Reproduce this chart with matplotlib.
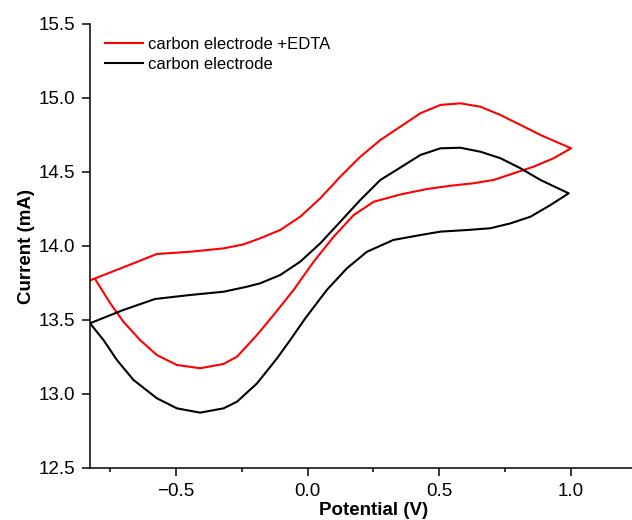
import matplotlib
matplotlib.use("Agg")
import matplotlib.pyplot as plt
from matplotlib.ticker import MultipleLocator

plt.rcParams["font.family"] = ["Liberation Sans", "DejaVu Sans"]

# Cyclic voltammograms: forward (upper) branch then
# reverse (lower) branch for each electrode.
EDTA_FWD_V = [-0.826, -0.699, -0.572, -0.446, -0.319, -0.243, -0.180, -0.104,
              -0.028, 0.048, 0.124, 0.200, 0.276, 0.352, 0.428, 0.504, 0.580,
              0.656, 0.732, 0.808, 0.884, 1.000]
EDTA_FWD_I = [13.768, 13.856, 13.946, 13.961, 13.984, 14.011, 14.052, 14.108,
              14.198, 14.322, 14.468, 14.603, 14.716, 14.806, 14.897, 14.953,
              14.964, 14.941, 14.885, 14.818, 14.750, 14.660]
EDTA_REV_V = [1.000, 0.934, 0.858, 0.782, 0.706, 0.630, 0.542, 0.453, 0.352,
              0.251, 0.175, 0.099, 0.023, -0.053, -0.129, -0.192, -0.268,
              -0.319, -0.408, -0.496, -0.572, -0.636, -0.699, -0.749, -0.806]
EDTA_REV_I = [14.660, 14.593, 14.536, 14.491, 14.446, 14.424, 14.407, 14.385,
              14.348, 14.299, 14.209, 14.063, 13.894, 13.703, 13.534, 13.399,
              13.252, 13.203, 13.174, 13.196, 13.263, 13.365, 13.488, 13.613,
              13.775]

BARE_FWD_V = [-0.826, -0.699, -0.579, -0.446, -0.319, -0.230, -0.180, -0.104,
              -0.028, 0.048, 0.124, 0.200, 0.276, 0.352, 0.428, 0.504, 0.580,
              0.656, 0.732, 0.808, 0.884, 0.991]
BARE_FWD_I = [13.478, 13.568, 13.642, 13.669, 13.691, 13.725, 13.748, 13.804,
              13.894, 14.018, 14.164, 14.311, 14.446, 14.530, 14.615, 14.660,
              14.664, 14.637, 14.593, 14.525, 14.446, 14.356]
BARE_REV_V = [0.991, 0.922, 0.846, 0.770, 0.694, 0.605, 0.504, 0.428, 0.326,
              0.225, 0.149, 0.073, -0.009, -0.066, -0.116, -0.192, -0.268,
              -0.319, -0.408, -0.496, -0.572, -0.661, -0.724, -0.775, -0.826]
BARE_REV_I = [14.356, 14.277, 14.198, 14.153, 14.120, 14.108, 14.097, 14.074,
              14.041, 13.961, 13.849, 13.703, 13.511, 13.365, 13.241, 13.072,
              12.948, 12.903, 12.874, 12.903, 12.971, 13.095, 13.230, 13.365,
              13.478]

fig = plt.figure(figsize=(6.32, 5.2), dpi=100)
# axes run past the right edge, as in the (cropped) reference
ax = fig.add_axes([90 / 632, 52 / 520, 568 / 632, 444 / 520])

ax.plot(EDTA_FWD_V + EDTA_REV_V, EDTA_FWD_I + EDTA_REV_I, color="#ff0000",
        linewidth=1.5, label="carbon electrode +EDTA")
ax.plot(BARE_FWD_V + BARE_REV_V, BARE_FWD_I + BARE_REV_I, color="black",
        linewidth=1.5, label="carbon electrode")

ax.set_xlim(-0.826, 1.33)
ax.set_ylim(12.5, 15.5)
ax.xaxis.set_major_locator(MultipleLocator(0.5))
ax.xaxis.set_minor_locator(MultipleLocator(0.25))
ax.yaxis.set_major_locator(MultipleLocator(0.5))
ax.xaxis.set_major_formatter(lambda v, _p: f"{v:.1f}".replace("-", "\u2212"))
ax.yaxis.set_major_formatter(lambda v, _p: f"{v:.1f}")

for side in ("top", "right"):
    ax.spines[side].set_visible(False)
for side in ("left", "bottom"):
    ax.spines[side].set_linewidth(1.1)
ax.tick_params(which="major", direction="out", length=5.5, width=1.1,
               labelsize=13.5, pad=5)
ax.tick_params(which="minor", direction="out", length=3, width=1.1)

ax.set_xlabel("Potential (V)", fontsize=13.5, fontweight="bold", labelpad=1.5)
ax.set_ylabel("Current (mA)", fontsize=13.5, fontweight="bold", labelpad=3)

ax.legend(loc="upper left", bbox_to_anchor=(105 / 632, 1 - 37 / 520),
          bbox_transform=fig.transFigure, frameon=False, fontsize=12,
          handlelength=2.3, handletextpad=0.3, borderpad=0,
          borderaxespad=0, labelspacing=0.32)

fig.savefig("out.png", dpi=100)
